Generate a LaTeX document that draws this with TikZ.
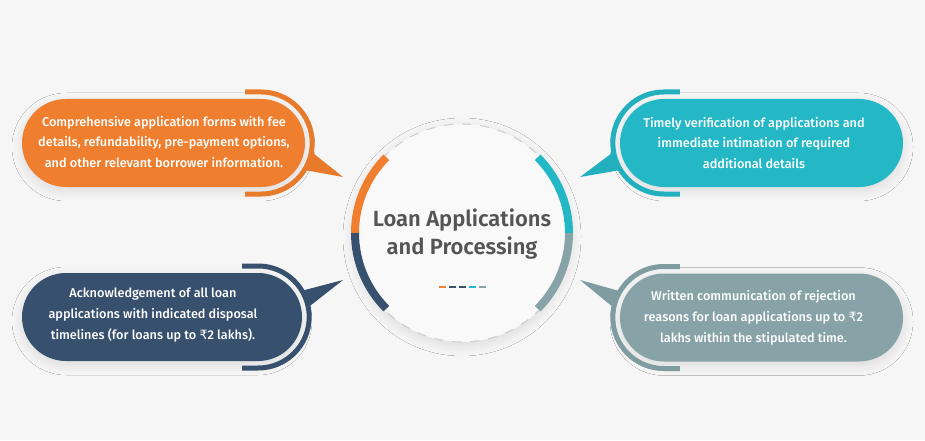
\documentclass[tikz,border=0pt]{standalone}
\usepackage{fontspec}
\setmainfont{Fira Sans}[UprightFont={* Medium}, BoldFont={* SemiBold}]
\newfontfamily\rupeefont{DejaVu Sans}
\usetikzlibrary{calc,shapes.misc,shadows.blur}
\definecolor{bgcol}{HTML}{F6F6F6}
\definecolor{hubfill}{HTML}{F9F9F9}
\definecolor{titlecol}{HTML}{555555}
\definecolor{dashcol}{HTML}{CCCCCC}
\definecolor{orgcol}{HTML}{EF7F2F}
\definecolor{orgring}{HTML}{E77A2B}
\definecolor{tealcol}{HTML}{24B7C6}
\definecolor{tealring}{HTML}{22AFBE}
\definecolor{navcol}{HTML}{37506D}
\definecolor{slatecol}{HTML}{87A3A8}
\definecolor{slatering}{HTML}{7F9CA1}
\newcommand{\rs}{{\rupeefont ₹}}

\begin{document}
\begin{tikzpicture}[
      x=1pt, y=1pt,
      softshadow/.style={blur shadow={shadow blur steps=12, shadow xshift=0pt,
                  shadow yshift=-4pt, shadow blur radius=10pt, shadow opacity=11}},
      bubble/.style={rounded rectangle, minimum width=#1, minimum height=88pt,
                  inner sep=0pt, softshadow},
      boxtxt/.style={text=white, align=center, font=\fontsize{12.7}{20.8}\selectfont},
      ring/.style={line width=5pt},
      band/.style={line width=8pt},
      tick/.style={line width=2pt}
    ]
    \fill[bgcol] (0,0) rectangle (925,440);
    \useasboundingbox (0,0) rectangle (925,440);

    % centre
    \node[circle, minimum size=218pt, fill=hubfill, softshadow] (hub) at (462,207) {};
    \draw[dashcol, line width=1pt, dash pattern=on 9pt off 9pt] (hub.center) circle[radius=109];
    \draw[band, orgcol] ($(hub.center)+(180:107)$) arc[start angle=180, end angle=135, radius=107];
    \draw[band, navcol] ($(hub.center)+(180:107)$) arc[start angle=180, end angle=225, radius=107];
    \draw[band, tealcol] ($(hub.center)+(0:107)$) arc[start angle=0, end angle=45, radius=107];
    \draw[band, slatecol] ($(hub.center)+(0:107)$) arc[start angle=0, end angle=-45, radius=107];
    \node[font=\bfseries\fontsize{22}{27.5}\selectfont, text=titlecol, align=center] (title)
      at ($(hub.center)+(0,-1)$) {Loan Applications\\and Processing};
    \foreach \c [count=\i] in {orgcol,navcol,navcol,tealcol,slatecol}
      \draw[tick, \c] ($(hub.center)+(-33+10*\i,-54)$) -- ++(7.3,0);

    % top left
    \node[bubble=283pt, fill=orgcol] (orgbox) at (163.5,297) {};
    \coordinate (orgc) at ($(orgbox.east)+(-44,0)$);
    \coordinate (orgtip) at (343,263);
    \fill[orgring] ($(orgc)+(-10:51)$) -- (orgtip) -- ($(orgc)+(-32:51)$) -- cycle;
    \draw[ring, orgring] ($(orgc)+(-16,51)$) -- ++(16,0) arc[start angle=90, end angle=-90, radius=51] -- ++(-16,0);
    \node[boxtxt] (orgtxt) at (164,298) {Comprehensive application forms with fee\\details, refundability, pre-payment options,\\and other relevant borrower information.};

    % bottom left
    \node[bubble=280pt, fill=navcol] (navbox) at (162,123) {};
    \coordinate (navc) at ($(navbox.east)+(-44,0)$);
    \coordinate (navtip) at (343,160);
    \fill[navcol] ($(navc)+(31:51)$) -- (navtip) -- ($(navc)+(11:51)$) -- cycle;
    \draw[ring, navcol] ($(navc)+(-16,51)$) -- ++(16,0) arc[start angle=90, end angle=-90, radius=51] -- ++(-16,0);
    \node[boxtxt] (navtxt) at (153,125) {Acknowledgement of all loan\\applications with indicated disposal\\timelines (for loans up to \rs2 lakhs).};

    % top right
    \node[bubble=283pt, fill=tealcol] (tealbox) at (761.5,297) {};
    \coordinate (tealc) at ($(tealbox.west)+(44,0)$);
    \coordinate (tealtip) at (580,263);
    \fill[tealring] ($(tealc)+(190:51)$) -- (tealtip) -- ($(tealc)+(212:51)$) -- cycle;
    \draw[ring, tealring] ($(tealc)+(16,51)$) -- ++(-16,0) arc[start angle=90, end angle=270, radius=51] -- ++(16,0);
    \node[boxtxt] (tealtxt) at (754,297) {Timely verification of applications and\\immediate intimation of required\\additional details};

    % bottom right
    \node[bubble=283pt, fill=slatecol] (slatebox) at (761.5,122.5) {};
    \coordinate (slatec) at ($(slatebox.west)+(44,0)$);
    \coordinate (slatetip) at (580,160);
    \fill[slatering] ($(slatec)+(149:51)$) -- (slatetip) -- ($(slatec)+(169:51)$) -- cycle;
    \draw[ring, slatering] ($(slatec)+(16,51)$) -- ++(-16,0) arc[start angle=90, end angle=270, radius=51] -- ++(16,0);
    \node[boxtxt] (slatetxt) at (753.5,122) {Written communication of rejection\\reasons for loan applications up to \rs2\\lakhs within the stipulated time.};
  \end{tikzpicture}
\end{document}
